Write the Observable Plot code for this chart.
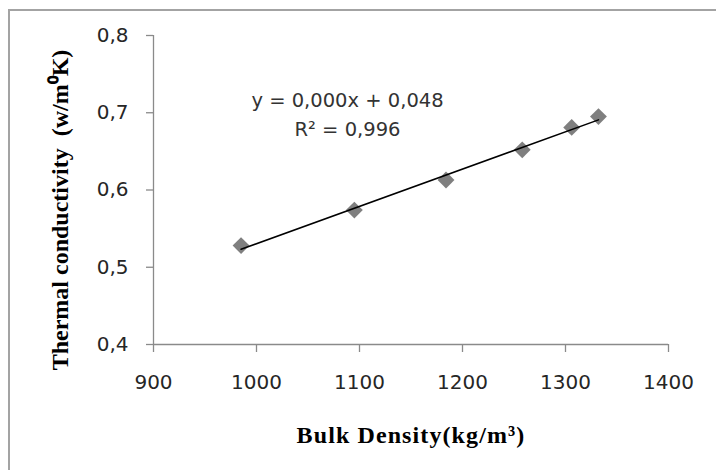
<!DOCTYPE html>
<html>
<head>
<meta charset="utf-8">
<script src="https://cdn.jsdelivr.net/npm/d3@7"></script>
<script src="https://cdn.jsdelivr.net/npm/@observablehq/plot@0.6"></script>
<style>
  html, body { margin: 0; padding: 0; background: #fff; overflow: hidden; }
  #wrap { position: relative; width: 716px; height: 470px; overflow: hidden; }
  #border { position: absolute; left: 8px; top: 9px; width: 900px; height: 700px;
            border: 2px solid #a3a3a3; box-sizing: border-box; pointer-events: none; }
  .xtitle text { letter-spacing: 1.1px; }
</style>
</head>
<body>
<div id="wrap"><div id="chart"></div><div id="border"></div></div>
<script>
// ---- data ----
const xTicks = [900, 1000, 1100, 1200, 1300, 1400];
const yTicks = [0.4, 0.5, 0.6, 0.7, 0.8];
const density = [985, 1095, 1184, 1258, 1306, 1332];          // kg/m3
const conductivity = [0.528, 0.574, 0.613, 0.652, 0.681, 0.695]; // W/m K
const equationLines = ["y = 0,000x + 0,048", "R² = 0,996"];
const xTitle = "Bulk Density(kg/m³)";
const yTitle = "Thermal conductivity  (w/m⁰K)";

const points = density.map((d, i) => ({x: d, y: conductivity[i]}));
const fmt = d => d.toFixed(1).replace(".", ",");
const axisGray = "#8a8a8a";

const chart = Plot.plot({
  width: 716,
  height: 470,
  marginLeft: 153,
  marginRight: 48,
  marginTop: 35,
  marginBottom: 126,
  style: {fontFamily: "DejaVu Sans", background: "white"},
  x: {domain: [xTicks[0], xTicks[xTicks.length - 1]], axis: null},
  y: {domain: [yTicks[0], yTicks[yTicks.length - 1]], axis: null},
  marks: [
    Plot.ruleY([yTicks[0]], {stroke: axisGray, strokeWidth: 1.3}),
    Plot.ruleX([xTicks[0]], {stroke: axisGray, strokeWidth: 1.3}),
    Plot.axisY(yTicks, {tickSize: 7, tickPadding: 18, tickFormat: fmt, stroke: axisGray, strokeWidth: 1.3, fill: "#262626", fontSize: 20, label: null}),
    Plot.axisX(xTicks, {tickSize: 8, tickPadding: 22, tickFormat: d => String(d), stroke: axisGray, strokeWidth: 1.3, fill: "#262626", fontSize: 20, label: null}),
    Plot.dot(points, {x: "x", y: "y", symbol: "diamond2", r: 7.6, fill: "#7f7f7f", stroke: "none"}),
    Plot.linearRegressionY(points, {x: "x", y: "y", stroke: "#000", strokeWidth: 1.5, ci: 0}),
    Plot.text([equationLines.join("\n")], {frameAnchor: "top", dx: -63.5, dy: 77, lineAnchor: "middle", lineHeight: 1.45, fontSize: 19.5, fill: "#333", textAnchor: "middle"}),
    Plot.text([xTitle], {frameAnchor: "bottom", dy: 91, lineAnchor: "middle", textAnchor: "middle", fontFamily: "Liberation Serif", fontWeight: "bold", fontSize: 24, fill: "#000", className: "xtitle"}),
    Plot.text([yTitle], {frameAnchor: "left", dx: -93, dy: 20, rotate: -90, lineAnchor: "middle", textAnchor: "middle", fontFamily: "Liberation Serif", fontWeight: "bold", fontSize: 24, fill: "#000"})
  ]
});
document.getElementById("chart").appendChild(chart);
</script>
</body>
</html>
